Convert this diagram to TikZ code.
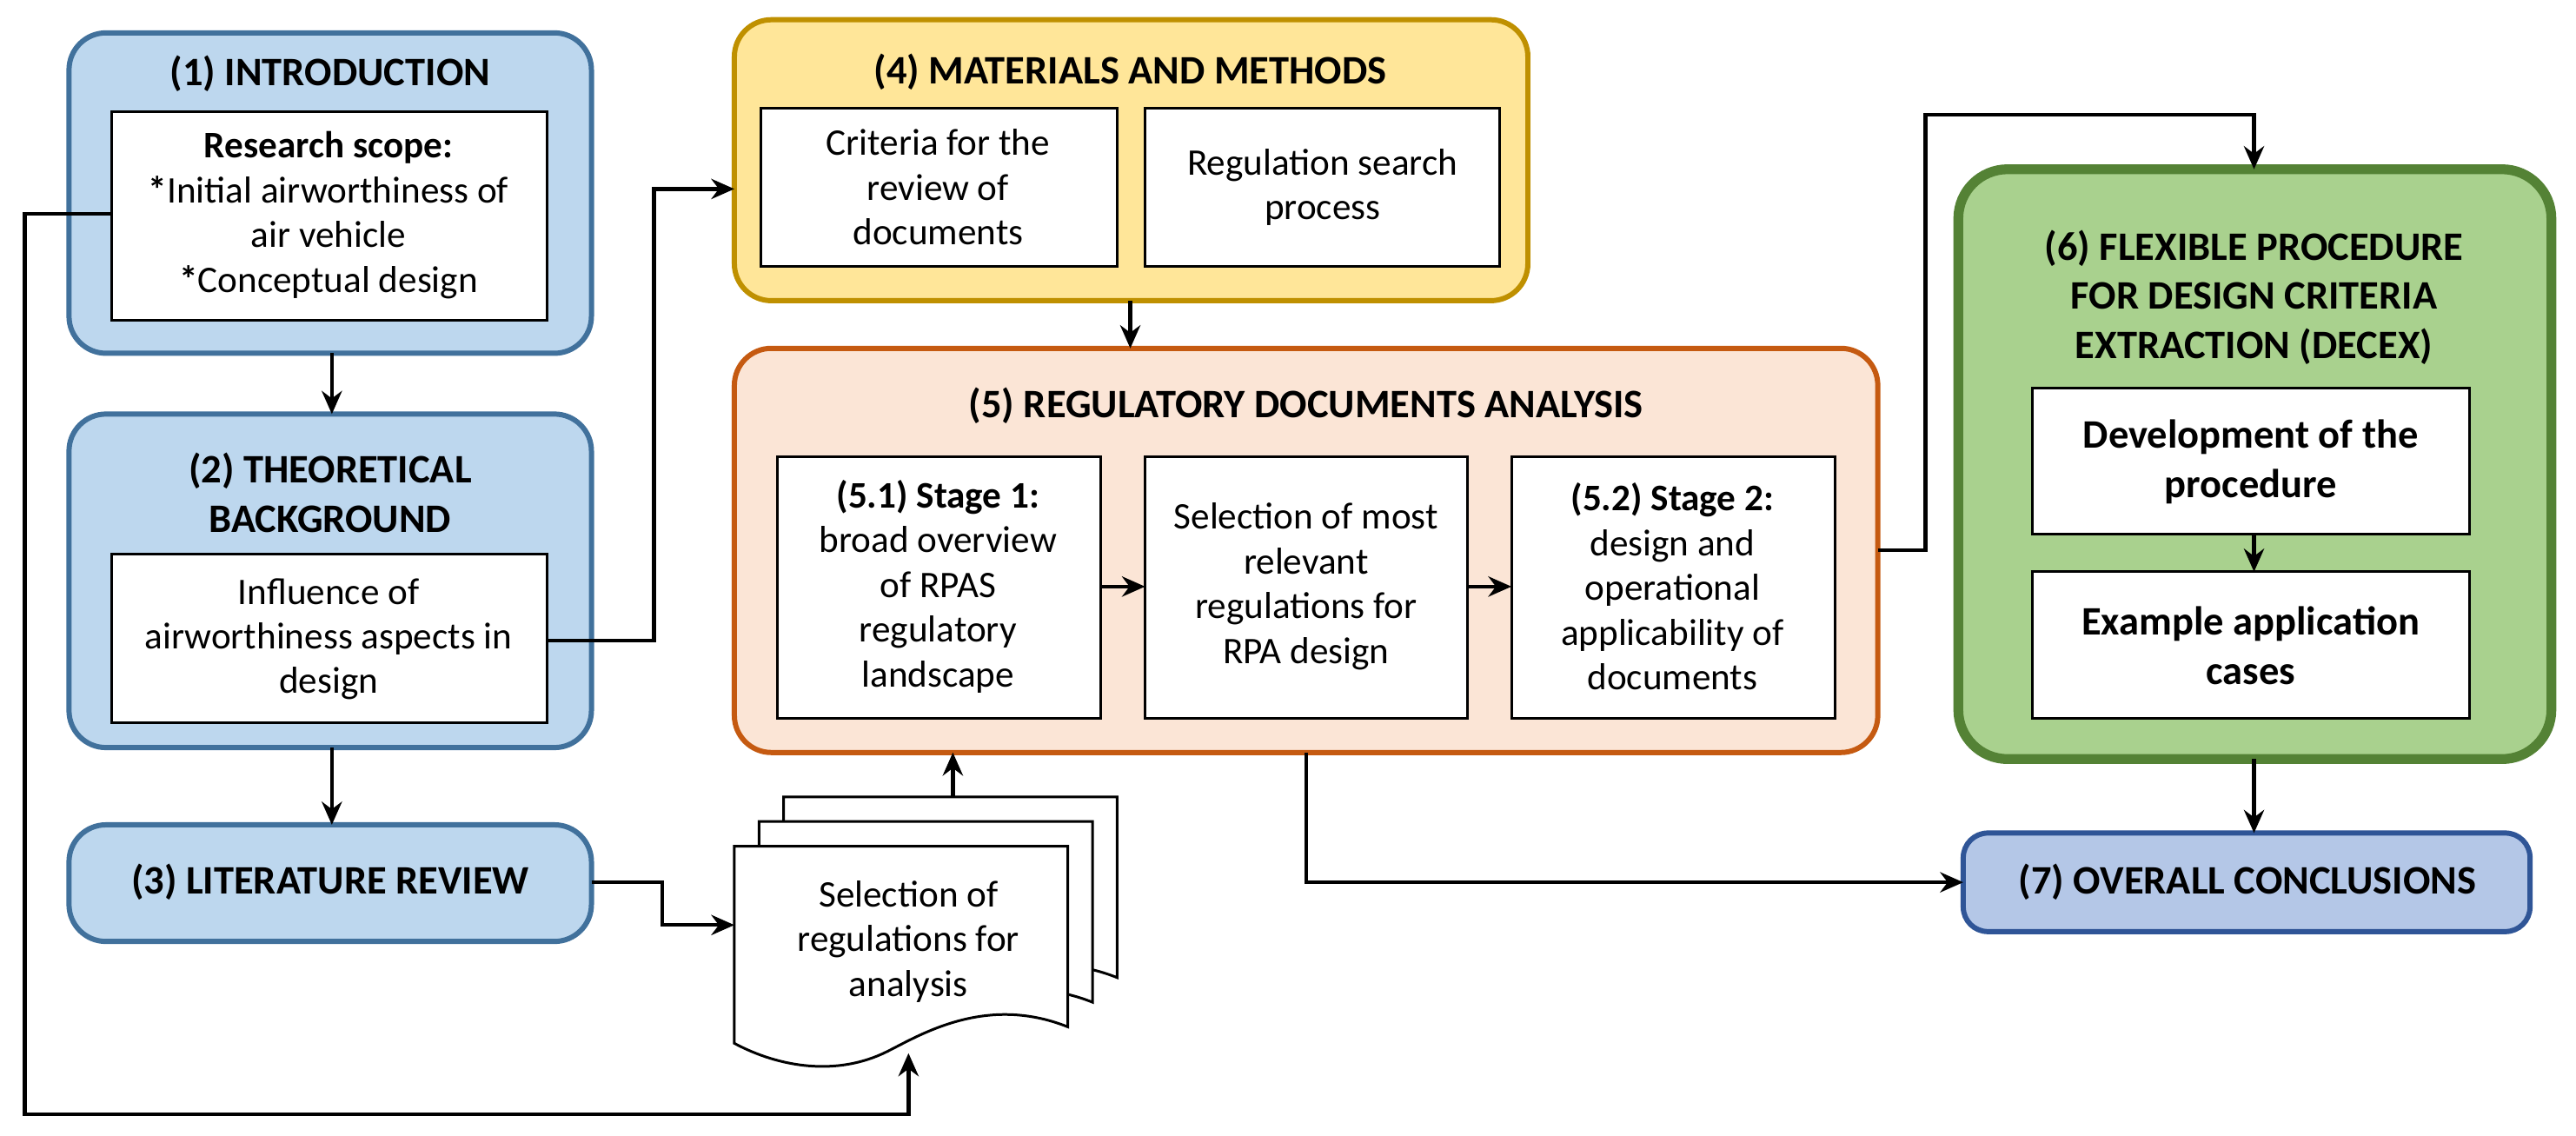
\documentclass[tikz,border=0pt]{standalone}
\usepackage{fontspec}
\setmainfont{Carlito}
\usetikzlibrary{arrows.meta}
\definecolor{bfill}{HTML}{BDD7EE}\definecolor{bdraw}{HTML}{41719C}
\definecolor{yfill}{HTML}{FFE699}\definecolor{ydraw}{HTML}{BF9000}
\definecolor{ofill}{HTML}{FBE5D6}\definecolor{odraw}{HTML}{C55A11}
\definecolor{gfill}{HTML}{A9D18E}\definecolor{gdraw}{HTML}{548235}
\definecolor{cfill}{HTML}{B4C7E7}\definecolor{cdraw}{HTML}{2F5597}
\begin{document}
\begin{tikzpicture}[x=0.02cm,y=-0.02cm,
  font=\fontsize{13}{15.5}\selectfont,
  outer/.style={rounded corners=0.45cm,line width=1.8pt},
  inner/.style={draw,fill=white,line width=0.9pt},
  ttl/.style={font=\fontsize{14}{17}\selectfont\bfseries,align=center},
  arr/.style={line width=1.3pt,-{Stealth[length=8pt,width=7pt]}}]
\useasboundingbox (0,0) rectangle (1568,691);
% box 1
\draw[outer,fill=bfill,draw=bdraw] (42,20) rectangle (360,215);
\node[ttl] (t1) at (201,45) {(1) INTRODUCTION};
\draw[inner] (68,68) rectangle (333,195);
\node[align=center] (i1) at (200,131) {\textbf{Research scope:}\\\textbf{*}Initial airworthiness of\\air vehicle\\\textbf{*}Conceptual design};
% box 2
\draw[outer,fill=bfill,draw=bdraw] (42,252) rectangle (360,455);
\node[ttl] (t2) at (201,300) {(2) THEORETICAL\\BACKGROUND};
\draw[inner] (68,337) rectangle (333,440);
\node[align=center] (i2) at (200,389) {Influence of\\airworthiness aspects in\\design};
% box 3
\draw[outer,fill=bfill,draw=bdraw] (42,502) rectangle (360,573);
\node[ttl] (t3) at (201,537) {(3) LITERATURE REVIEW};
% box 4
\draw[outer,fill=yfill,draw=ydraw] (447,12) rectangle (930,183);
\node[ttl] (t4) at (688,44) {(4) MATERIALS AND METHODS};
\draw[inner] (463,66) rectangle (680,162);
\node[align=center] at (571,114) {Criteria for the\\review of\\documents};
\draw[inner] (697,66) rectangle (913,162);
\node[align=center] at (805,114) {Regulation search\\process};
% box 5
\draw[outer,fill=ofill,draw=odraw] (447,212) rectangle (1143,458);
\node[ttl] (t5) at (795,247) {(5) REGULATORY DOCUMENTS ANALYSIS};
\draw[inner] (473,278) rectangle (670,437);
\node[align=center] (s1) at (571,357) {\textbf{(5.1) Stage 1:}\\broad overview\\of RPAS\\regulatory\\landscape};
\draw[inner] (697,278) rectangle (893,437);
\node[align=center] (s2) at (795,357) {Selection of most\\relevant\\regulations for\\RPA design};
\draw[inner] (920,278) rectangle (1117,437);
\node[align=center] (s3) at (1018,357) {\textbf{(5.2) Stage 2:}\\design and\\operational\\applicability of\\documents};
\draw[arr] (670,357) -- (697,357);
\draw[arr] (893,357) -- (920,357);
% box 6
\draw[rounded corners=0.6cm,line width=3.4pt,fill=gfill,draw=gdraw] (1192,103) rectangle (1553,462);
\node[ttl] (t6) at (1372,181) {(6) FLEXIBLE PROCEDURE\\FOR DESIGN CRITERIA\\EXTRACTION (DECEX)};
\draw[inner] (1237,236) rectangle (1503,325);
\node[ttl] (d1) at (1370,281) {Development of the\\procedure};
\draw[inner] (1237,348) rectangle (1503,437);
\node[ttl] (d2) at (1370,393) {Example application\\cases};
\draw[arr] (1372,325) -- (1372,348);
% box 7
\draw[rounded corners=0.3cm,line width=1.8pt,fill=cfill,draw=cdraw] (1195,507) rectangle (1540,567);
\node[ttl] (t7) at (1368,537) {(7) OVERALL CONCLUSIONS};
% documents
\foreach \d in {30,15,0}{
 \draw[fill=white,line width=0.9pt] (447+\d,515-\d) -- (650+\d,515-\d) -- (650+\d,625-\d)
   .. controls (600+\d,605-\d) and (560+\d,630-\d) .. (540+\d,640-\d)
   .. controls (510+\d,655-\d) and (475+\d,650-\d) .. (447+\d,635-\d) -- cycle;}
\node[align=center] (doc) at (553,573) {Selection of\\regulations for\\analysis};
% connectors
\draw[arr] (202,215) -- (202,252);
\draw[arr] (202,455) -- (202,502);
\draw[arr] (333,390) -- (398,390) -- (398,115) -- (447,115);
\draw[arr] (688,183) -- (688,212);
\draw[arr] (1143,335) -- (1172,335) -- (1172,70) -- (1372,70) -- (1372,103);
\draw[arr] (1372,462) -- (1372,507);
\draw[arr] (795,458) -- (795,537) -- (1195,537);
\draw[arr] (360,537) -- (403,537) -- (403,563) -- (447,563);
\draw[arr] (580,485) -- (580,458);
\draw[arr] (68,130) -- (15,130) -- (15,678) -- (553,678) -- (553,641);
\end{tikzpicture}
\end{document}
